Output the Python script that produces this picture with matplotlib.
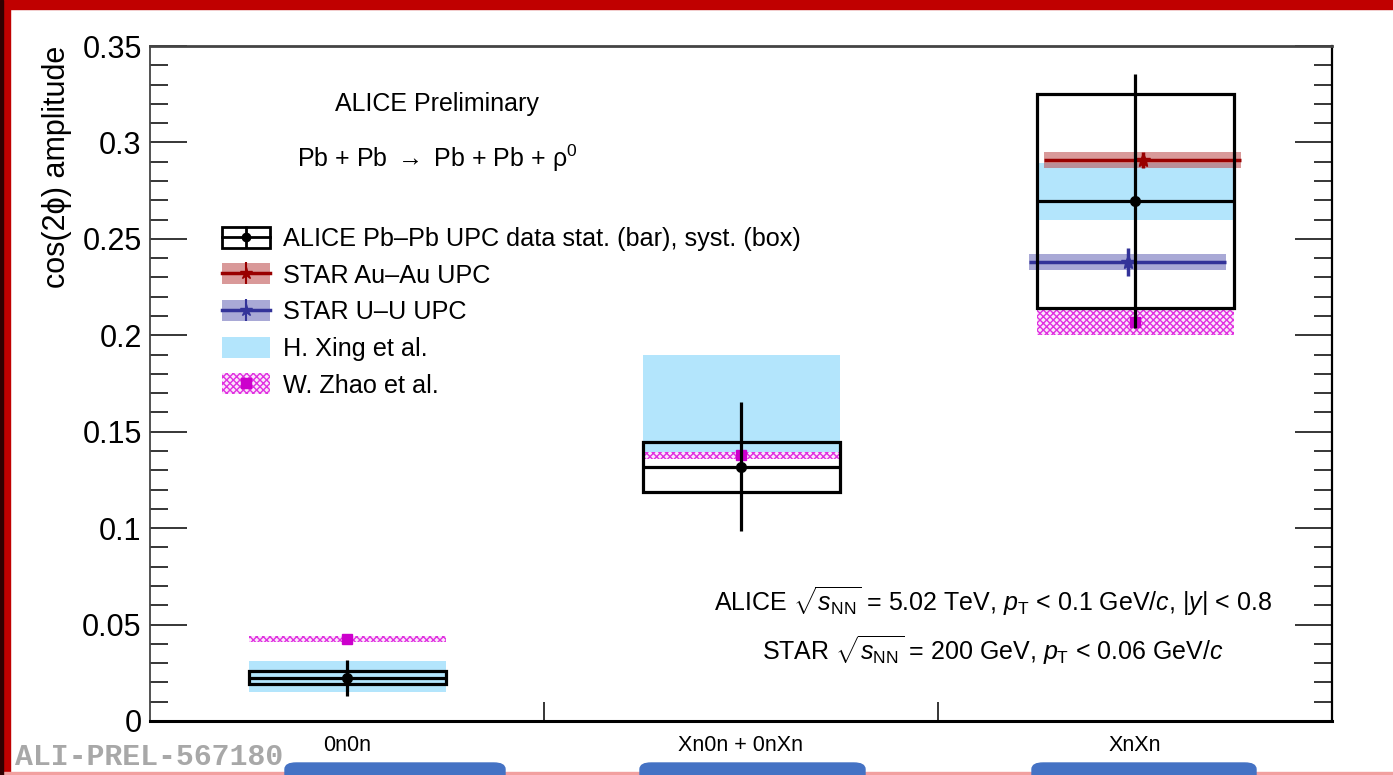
import numpy as np
import matplotlib
matplotlib.use('Agg')
import matplotlib.pyplot as plt
from matplotlib.patches import Rectangle, FancyBboxPatch
from matplotlib.lines import Line2D

plt.rcParams['font.family'] = ['Liberation Sans', 'DejaVu Sans']
plt.rcParams['mathtext.fontset'] = 'custom'
plt.rcParams['mathtext.rm'] = 'Liberation Sans'
plt.rcParams['mathtext.it'] = 'Liberation Sans:italic'
plt.rcParams['mathtext.bf'] = 'Liberation Sans:bold'
plt.rcParams['hatch.linewidth'] = 1.0

# ---------------------------------------------------------------------------
# data
# ---------------------------------------------------------------------------
categories = ['0n0n', 'Xn0n + 0nXn', 'XnXn']
x_pos = np.array([0.5, 1.5, 2.5])
half_width = 0.25

alice_val = [0.0225, 0.1319, 0.2697]
alice_stat = [0.0093, 0.0333, 0.0660]
alice_syst = [0.0034, 0.0130, 0.0553]

xing_val = [0.0230, 0.1647, 0.2746]
xing_err = [0.0080, 0.0250, 0.0149]

zhao_val = [0.0426, 0.1377, 0.2068]
zhao_err = [0.0015, 0.0020, 0.0067]

# STAR only has XnXn
star_x = [2.52, 2.482]
star_names = ['STAR Au\u2013Au UPC', 'STAR U\u2013U UPC']
star_val = [0.2908, 0.2379]
star_stat = [0.0042, 0.0072]
star_syst = [0.0042, 0.0042]
star_line = ['#990000', '#333399']
star_band = ['#c05555', '#7070bb']

# ---------------------------------------------------------------------------
fig = plt.figure(figsize=(13.93, 7.75), dpi=100)
ax = fig.add_axes([150/1393, 54/775, 1182/1393, 675/775])

LB = '#b3e5fc'
MAG = '#e030e0'

for i in range(3):
    ax.add_patch(Rectangle((x_pos[i]-half_width, xing_val[i]-xing_err[i]), 2*half_width, 2*xing_err[i],
                           facecolor=LB, edgecolor='none', zorder=1))
for i in range(3):
    ax.add_patch(Rectangle((x_pos[i]-half_width, zhao_val[i]-zhao_err[i]), 2*half_width, 2*zhao_err[i],
                           facecolor='#fbe6fb', edgecolor=MAG, hatch='xxxxx', lw=0, zorder=2))
    ax.plot(x_pos[i], zhao_val[i], 's', color='#cc00cc', ms=7, zorder=2.5)

for k in range(2):
    ax.add_patch(Rectangle((star_x[k]-half_width, star_val[k]-star_syst[k]), 2*half_width, 2*star_syst[k],
                           facecolor=star_band[k], alpha=0.6, edgecolor='none', zorder=3))
    ax.errorbar(star_x[k], star_val[k], xerr=half_width, yerr=star_stat[k], fmt='*', color=star_line[k],
                ms=10, elinewidth=2.5, capsize=0, zorder=3.5)

for i in range(3):
    ax.add_patch(Rectangle((x_pos[i]-half_width, alice_val[i]-alice_syst[i]), 2*half_width, 2*alice_syst[i],
                           facecolor='none', edgecolor='black', lw=2.3, zorder=4))
ax.errorbar(x_pos, alice_val, xerr=half_width, yerr=alice_stat, fmt='o', color='black',
            ms=7, elinewidth=2.3, capsize=0, zorder=5)

# axes styling, ROOT-like
ax.set_xlim(0, 3)
ax.set_ylim(0, 0.35)
ax.set_yticks(np.arange(0, 0.351, 0.05))
ax.set_yticklabels(['0', '0.05', '0.1', '0.15', '0.2', '0.25', '0.3', '0.35'])
ax.set_yticks(np.arange(0, 0.351, 0.01), minor=True)
ax.tick_params(axis='y', which='both', direction='in', left=True, right=True, labelsize=22, pad=6, width=1.1)
ax.tick_params(axis='y', which='major', length=26.5)
ax.tick_params(axis='y', which='minor', length=13)
ax.set_xticks(x_pos)
ax.set_xticklabels(categories)
ax.set_xticks([1, 2], minor=True)
ax.tick_params(axis='x', which='major', length=0, labelsize=15.5, pad=10)
ax.tick_params(axis='x', which='minor', direction='in', length=14, width=1.1, top=False)
ax.spines['bottom'].set_linewidth(2.2)
ax.spines['top'].set_linewidth(2.0)
ax.spines['top'].set_color('#444444')
ax.spines['left'].set_linewidth(1.3)
ax.spines['left'].set_color('#444444')
ax.spines['right'].set_linewidth(1.6)

ax.set_ylabel('cos(2\u03d5) amplitude', fontsize=22, loc='top')
ax.yaxis.set_label_coords(-0.066, 1.0)

# texts
ax.text(0.243, 0.914, 'ALICE Preliminary', transform=ax.transAxes, fontsize=18, ha='center', va='center')
ax.text(0.243, 0.834, 'Pb + Pb $\\rightarrow$ Pb + Pb + \u03c1$^{0}$', transform=ax.transAxes,
        fontsize=18, ha='center', va='center')
ax.text(0.713, 0.178, r'ALICE $\sqrt{s_{\rm NN}}$ = 5.02 TeV, $p_{\rm T}$ < 0.1 GeV/$c$, |$y$| < 0.8',
        transform=ax.transAxes, fontsize=18, ha='center', va='center')
ax.text(0.713, 0.104, r'STAR $\sqrt{s_{\rm NN}}$ = 200 GeV, $p_{\rm T}$ < 0.06 GeV/$c$',
        transform=ax.transAxes, fontsize=18, ha='center', va='center')

# legend
h_alice = (Rectangle((0, 0), 1, 1, facecolor='none', edgecolor='black', lw=2),
           Line2D([], [], color='black', lw=2, marker='o', ms=6),
           Line2D([], [], ls='none', marker='|', ms=16, mew=2, color='black'))
h_au = (Rectangle((0, 0), 1, 1, facecolor=star_band[0], alpha=0.6, edgecolor='none'),
        Line2D([], [], color=star_line[0], lw=2.5, marker='*', ms=9),
        Line2D([], [], ls='none', marker='|', ms=16, mew=1.5, color=star_line[0]))
h_uu = (Rectangle((0, 0), 1, 1, facecolor=star_band[1], alpha=0.6, edgecolor='none'),
        Line2D([], [], color=star_line[1], lw=2.5, marker='*', ms=9),
        Line2D([], [], ls='none', marker='|', ms=16, mew=1.5, color=star_line[1]))
h_xing = Rectangle((0, 0), 1, 1, facecolor=LB, edgecolor='none')
h_zhao = (Rectangle((0, 0), 1, 1, facecolor='#fbe6fb', edgecolor=MAG, hatch='xxxxx', lw=0),
          Line2D([], [], ls='none', marker='s', ms=7, color='#cc00cc'))
ax.legend([h_alice, h_au, h_uu, h_xing, h_zhao],
          ['ALICE Pb\u2013Pb UPC data stat. (bar), syst. (box)', star_names[0], star_names[1],
           'H. Xing et al.', 'W. Zhao et al.'],
          loc='upper left', bbox_to_anchor=(0.061, 0.732), frameon=False, fontsize=18.2,
          handlelength=1.9, handleheight=0.9, handletextpad=0.5, labelspacing=0.49,
          borderpad=0, borderaxespad=0)

# screenshot frame decorations
fig.text(15/1393, 18/775, 'ALI-PREL-567180', family='Liberation Mono', weight='bold', color='#a8a8a8',
         fontsize=21.5, ha='left', va='center')
fig.patches.append(Rectangle((0, 1-9/775), 1, 9/775, transform=fig.transFigure, color='#c00000', zorder=10))
fig.patches.append(Rectangle((0, 0), 10/1393, 1, transform=fig.transFigure, color='#c00000', zorder=10))
fig.patches.append(Rectangle((0, 0), 3/1393, 1, transform=fig.transFigure, color='#300000', zorder=11))
fig.patches.append(Rectangle((0, 1.2/775), 1, 1.5/775, transform=fig.transFigure, color='#f2a0a0', zorder=10))
for x0, x1 in [(285, 505), (640, 865), (1032, 1256)]:
    fig.patches.append(FancyBboxPatch((x0/1393, -10/775), (x1-x0)/1393, 22/775, transform=fig.transFigure,
                                      boxstyle='round,pad=0,rounding_size=0.008', color='#4472c4', zorder=12))

fig.savefig('out.png', dpi=100)
